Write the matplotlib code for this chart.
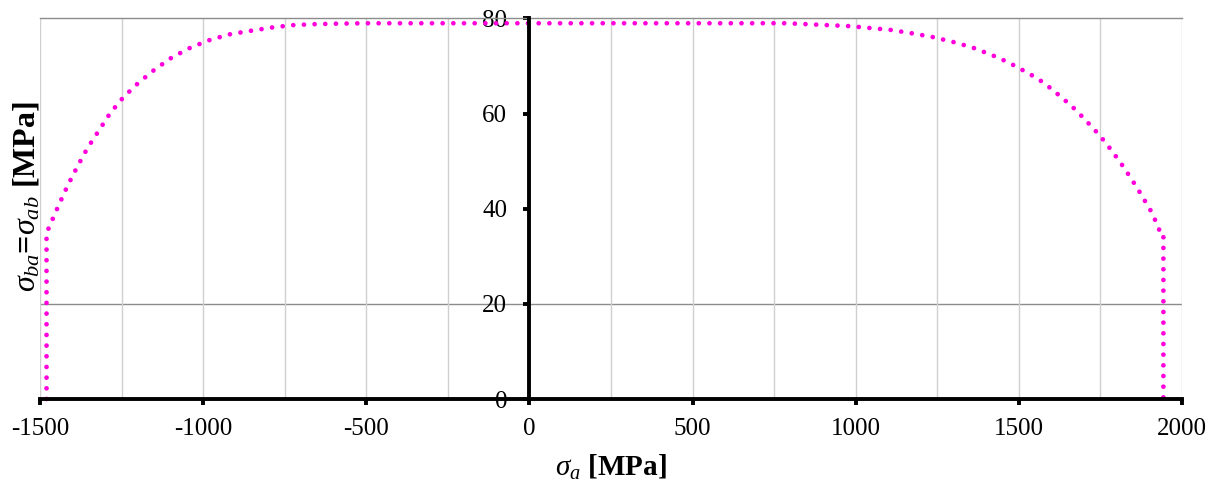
import matplotlib
matplotlib.use('Agg')
import matplotlib.pyplot as plt
from matplotlib.ticker import MultipleLocator

# Datos
sigma_a = [-1480, -1480, -1467, -1454, -1441, -1415, -1386, -1355, -1320, -1285,
           -1245, -1198, -1148, -1096, -1038, -979, -917, -855, -790, -727,
           -664, -601, -500, 0, 500, 788, 851, 916, 980, 1044, 1107, 1171,
           1236, 1297, 1358, 1418, 1448, 1478, 1505, 1534, 1561, 1587, 1612,
           1636, 1660, 1684, 1706, 1728, 1749, 1769, 1789, 1808, 1826, 1843,
           1861, 1877, 1894, 1910, 1922, 1935, 1943, 1943]
sigma_ba = [0, 34.9, 36.9, 39.0, 41.0, 44.9, 48.8, 52.7, 56.4, 60.1,
            63.4, 66.5, 69.3, 71.8, 73.9, 75.5, 76.7, 77.4, 78.1, 78.6,
            78.8, 78.9, 79.0, 79.0, 79.0, 79.0, 78.8, 78.6, 78.4, 78.0, 77.6, 76.9,
            76.1, 75.1, 73.9, 72.3, 71.4, 70.4, 69.4, 68.3, 67.2, 65.9, 64.5,
            63.1, 61.7, 60.1, 58.5, 56.9, 55.3, 53.6, 51.8, 50.0, 48.3, 46.4,
            44.6, 42.7, 40.8, 38.9, 36.9, 34.8, 34.8, 0]

x_ticks = [-1500, -1000, -500, 0, 500, 1000, 1500, 2000]
y_ticks = [0, 20, 40, 60, 80]

plt.rcParams['font.family'] = ['Liberation Serif', 'DejaVu Serif']
plt.rcParams['axes.unicode_minus'] = False
plt.rcParams['mathtext.fontset'] = 'custom'
plt.rcParams['mathtext.rm'] = 'Liberation Serif'
plt.rcParams['mathtext.it'] = 'Liberation Serif:italic'
plt.rcParams['mathtext.bf'] = 'Liberation Serif:bold'

fig = plt.figure(figsize=(12.19, 4.86), dpi=100)
ax = fig.add_axes([40 / 1219, 87 / 486, 1142 / 1219, 380.5 / 486])

# Rejilla vertical cada 250 y linea horizontal en 20
ax.xaxis.set_minor_locator(MultipleLocator(250))
ax.grid(True, which='both', axis='x', color='#d0d0d0', linewidth=1.0)
ax.axhline(20, color='#8c8c8c', linewidth=1.0, zorder=1)

ax.plot(sigma_a, sigma_ba, color='#FF00DC', linewidth=3.4,
        linestyle=(0, (0.01, 2.25)), dash_capstyle='round', zorder=3,
        clip_on=False)

ax.set_xlim(-1500, 2000)
ax.set_ylim(0, 80)
ax.set_xticks(x_ticks)
ax.set_yticks(y_ticks)

ax.spines['left'].set_position(('data', 0))
ax.spines['left'].set_linewidth(2.8)
ax.spines['bottom'].set_linewidth(2.8)
ax.spines['left'].set_zorder(4)
ax.spines['bottom'].set_zorder(4)
ax.spines['top'].set_color('#8c8c8c')
ax.spines['top'].set_linewidth(1.0)
ax.spines['right'].set_visible(False)

ax.tick_params(axis='x', which='major', direction='out', length=4, width=2.8,
               pad=10, labelsize=18)
ax.tick_params(axis='x', which='minor', length=0)
ax.tick_params(axis='y', direction='out', length=4, width=2.8, pad=12,
               labelsize=18)

fig.text(611 / 1219, 1 - 467 / 486, r'$\sigma_a$ [MPa]', fontsize=21,
         fontweight='bold', ha='center', va='center')
fig.text(27 / 1219, 1 - 197 / 486, r'$\sigma_{ba}$=$\sigma_{ab}$ [MPa]',
         fontsize=23, fontweight='bold', rotation=90, ha='center', va='center')

fig.savefig('out.png', dpi=100)
